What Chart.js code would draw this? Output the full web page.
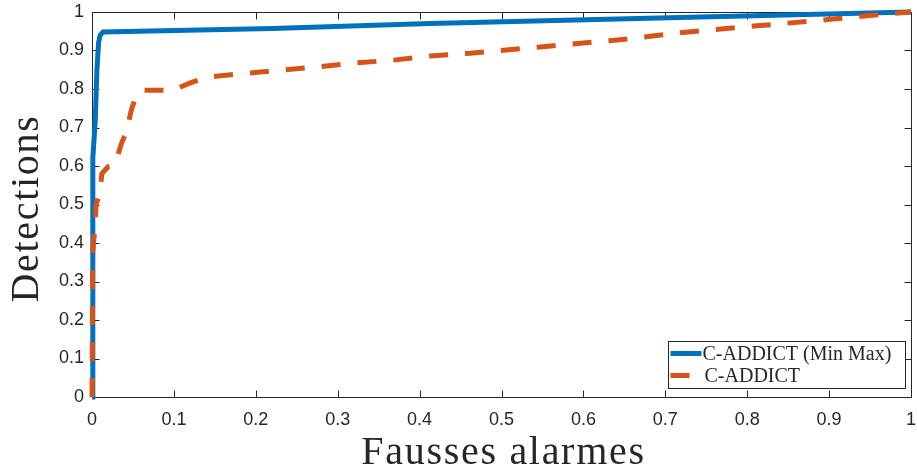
<!DOCTYPE html>
<html>
<head>
<meta charset="utf-8">
<script src="https://cdn.jsdelivr.net/npm/chart.js@4.4.1/dist/chart.umd.min.js"></script>
<style>
html, body { margin: 0; padding: 0; background: #fff; }
#wrap { width: 917px; height: 471px; }
</style>
</head>
<body>
<div id="wrap"><canvas id="chart" width="917" height="471"></canvas></div>
<script>
// values (fausses alarmes -> detections)
const minMaxFa = [0, 0.001, 0.004, 0.006, 0.008, 0.010, 0.0135, 0.22, 0.413, 0.718, 1]
const minMaxDet = [0, 0.62, 0.72, 0.85, 0.92, 0.94, 0.948, 0.957, 0.970, 0.986, 1]

const addictFa = [0, 0.001, 0.004, 0.005, 0.0098, 0.012, 0.0195, 0.028, 0.036, 0.042, 0.048, 0.054, 0.060, 0.099, 0.12, 0.14, 0.164, 0.23, 0.278, 0.323, 0.368, 0.413, 0.462, 0.551, 0.641, 0.718, 0.812, 0.901, 0.946, 1]
const addictDet = [0, 0.38, 0.45, 0.50, 0.532, 0.58, 0.598, 0.603, 0.659, 0.689, 0.745, 0.784, 0.797, 0.797, 0.816, 0.830, 0.836, 0.849, 0.858, 0.868, 0.875, 0.886, 0.893, 0.910, 0.927, 0.946, 0.964, 0.981, 0.990, 1]

const tickValues = [0, 0.1, 0.2, 0.3, 0.4, 0.5, 0.6, 0.7, 0.8, 0.9, 1]
const seriesNames = ['C-ADDICT (Min Max)', 'C-ADDICT']
const xTitle = 'Fausses alarmes'
const yTitle = 'Detections'

const axisColor = '#262626'
const blue = '#0072BD'
const orange = '#D95319'
const serif = '"Liberation Serif", "DejaVu Serif", serif'
const sans = '"Liberation Sans", Arial, sans-serif'

const toPoints = (xs, ys) => xs.map((x, i) => ({ x: x, y: ys[i] }))
const fmt = (v) => String(Number(v.toFixed(1)))

/* box round the plot with ticks pointing inward, like matlab */
const boxTicks = {
	id: 'boxTicks',
	beforeDatasetsDraw(chart) {
		const { ctx, chartArea, scales } = chart
		const L = Math.round(chartArea.left) + 0.5
		const R = Math.round(chartArea.right) + 0.5
		const T = Math.round(chartArea.top) + 0.5
		const B = Math.round(chartArea.bottom) + 0.5
		const len = 7
		ctx.save()
		ctx.strokeStyle = axisColor
		ctx.lineWidth = 1
		ctx.beginPath()
		ctx.rect(L, T, R - L, B - T)
		scales.x.ticks.forEach((t) => {
			const px = Math.round(scales.x.getPixelForValue(t.value)) + 0.5
			ctx.moveTo(px, B); ctx.lineTo(px, B - len)
			ctx.moveTo(px, T); ctx.lineTo(px, T + len)
		})
		scales.y.ticks.forEach((t) => {
			const py = Math.round(scales.y.getPixelForValue(t.value)) + 0.5
			ctx.moveTo(L, py); ctx.lineTo(L + len, py)
			ctx.moveTo(R, py); ctx.lineTo(R - len, py)
		})
		ctx.stroke()
		ctx.restore()
	}
}

/* axis titles, latex-looking serif is wider so add a bit of spacing */
const axisTitles = {
	id: 'axisTitles',
	afterDraw(chart) {
		const { ctx, chartArea } = chart
		ctx.save()
		ctx.fillStyle = axisColor
		ctx.font = '40px ' + serif
		ctx.letterSpacing = '1.7px'
		ctx.textAlign = 'center'
		ctx.textBaseline = 'alphabetic'
		ctx.fillText(xTitle, (chartArea.left + chartArea.right) / 2 + 2, chartArea.bottom + 67)
		ctx.translate(38, (chartArea.top + chartArea.bottom) / 2 + 4)
		ctx.rotate(-Math.PI / 2)
		ctx.fillText(yTitle, 0, 0)
		ctx.restore()
	}
}

/* legend box in the lower right corner of the plot */
const cornerLegend = {
	id: 'cornerLegend',
	afterDraw(chart) {
		const { ctx, chartArea } = chart
		const w = 237, h = 47
		const bx = Math.round(chartArea.right) - 243 + 0.5
		const by = Math.round(chartArea.bottom) - 56 + 0.5
		ctx.save()
		ctx.fillStyle = '#fff'
		ctx.strokeStyle = axisColor
		ctx.lineWidth = 1
		ctx.fillRect(bx, by, w, h)
		ctx.strokeRect(bx, by, w, h)
		const rows = [
			{ ds: chart.data.datasets[0], y: by + 12, len: 31, tx: bx + 34 },
			{ ds: chart.data.datasets[1], y: by + 34, len: 19, tx: bx + 36 }
		]
		rows.forEach((r) => {
			ctx.strokeStyle = r.ds.borderColor
			ctx.lineWidth = r.ds.borderWidth
			ctx.setLineDash([])
			ctx.beginPath()
			ctx.moveTo(bx + 2, r.y)
			ctx.lineTo(bx + 2 + r.len, r.y)
			ctx.stroke()
			ctx.fillStyle = axisColor
			ctx.font = '20px ' + serif
			ctx.textBaseline = 'middle'
			ctx.fillText(r.ds.label, r.tx, r.y + 1)
		})
		ctx.restore()
	}
}

new Chart(document.getElementById('chart'), {
	type: 'scatter',
	data: {
		datasets: [
			{
				label: seriesNames[0],
				data: toPoints(minMaxFa, minMaxDet),
				showLine: true,
				borderColor: blue,
				backgroundColor: blue,
				borderWidth: 5,
				pointRadius: 0,
				tension: 0,
				clip: 8,
				order: 2
			},
			{
				label: seriesNames[1],
				data: toPoints(addictFa, addictDet),
				showLine: true,
				borderColor: orange,
				backgroundColor: orange,
				borderWidth: 5,
				borderDash: [19, 17],
				borderCapStyle: 'butt',
				pointRadius: 0,
				tension: 0,
				clip: 8,
				order: 1
			}
		]
	},
	options: {
		responsive: false,
		animation: false,
		events: [],
		layout: { padding: { top: 12, right: 6, left: 0, bottom: 0 } },
		plugins: { legend: { display: false }, tooltip: { enabled: false } },
		scales: {
			x: {
				type: 'linear',
				min: 0,
				max: 1,
				afterBuildTicks: (s) => { s.ticks = tickValues.map((v) => ({ value: v })) },
				afterFit: (s) => { s.height = 74; s.paddingLeft = 0; s.paddingRight = 0 },
				grid: { display: false, drawTicks: false },
				border: { display: false },
				ticks: {
					color: axisColor,
					font: { family: sans, size: 18 },
					padding: 12,
					maxRotation: 0,
					callback: (v) => fmt(v)
				}
			},
			y: {
				type: 'linear',
				min: 0,
				max: 1,
				afterBuildTicks: (s) => { s.ticks = tickValues.map((v) => ({ value: v })) },
				afterFit: (s) => { s.width = 92; s.paddingTop = 0; s.paddingBottom = 0 },
				grid: { display: false, drawTicks: false },
				border: { display: false },
				ticks: {
					color: axisColor,
					font: { family: sans, size: 18 },
					padding: 8,
					callback: (v) => fmt(v)
				}
			}
		}
	},
	plugins: [boxTicks, axisTitles, cornerLegend]
})
</script>
</body>
</html>
